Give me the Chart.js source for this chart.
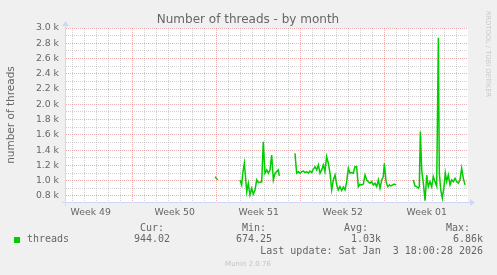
<!DOCTYPE html>
<html>
<head>
<meta charset="utf-8">
<title>Number of threads - by month</title>
<script src="https://cdn.jsdelivr.net/npm/chart.js@4.4.1/dist/chart.umd.min.js"></script>
<style>
	html, body { margin: 0; padding: 0; background: #f0f0f0; }
	canvas { display: block; }
</style>
</head>
<body>
<canvas id="threadsChart" width="497" height="275"></canvas>
<script>
// x values are days counted from the Monday of week 49 (null = no data)
const days = [
	13.86, 14.08, 15.0,
	15.94, 16.08, 16.17, 16.30, 16.50, 16.63, 16.77, 16.91, 17.05, 17.19, 17.33, 17.47, 17.61, 17.75,
	17.88, 18.02, 18.17, 18.30, 18.44, 18.58, 18.72, 18.86, 19.00, 19.13, 19.22, 19.9,
	20.52, 20.66, 20.80, 20.94, 21.08, 21.22, 21.36, 21.50, 21.63, 21.77, 21.91, 22.05, 22.19, 22.33,
	22.47, 22.61, 22.75, 22.88, 23.02, 23.16, 23.30, 23.44, 23.58, 23.72, 23.86, 24.00, 24.13, 24.27,
	24.41, 24.55, 24.69, 24.83, 24.97, 25.11, 25.25, 25.38, 25.52, 25.66, 25.80, 25.94, 26.08, 26.22,
	26.36, 26.50, 26.63, 26.77, 26.91, 27.05, 27.19, 27.33, 27.47, 27.61, 27.75, 27.88, 27.97, 28.11,
	28.25, 28.39, 28.52, 28.66, 28.80, 28.94, 29.6,
	30.38, 30.52, 30.66, 30.80, 30.88, 30.97, 31.08, 31.22, 31.36, 31.50, 31.63, 31.77, 31.91, 32.05,
	32.19, 32.33, 32.47, 32.55, 32.67, 32.80, 32.94, 33.05, 33.16, 33.30, 33.44, 33.58, 33.72, 33.86,
	34.00, 34.13, 34.27, 34.41, 34.55, 34.69
];
const threads = [
	1050, 1010, null,
	1009, 944, 1097, 1228, 856, 965, 812, 900, 825, 878, 1009, 973, 980, 985,
	1510, 1097, 1140, 1097, 1140, 1336, 1009, 1097, 1118, 1140, 1062, null,
	1358, 1097, 1118, 1097, 1118, 1125, 1105, 1118, 1097, 1125, 1105, 1149, 1183, 1140,
	1205, 1097, 1140, 1205, 1118, 1314, 1228, 1097, 878, 1009, 1074, 944, 878, 922,
	870, 915, 878, 987, 1162, 1097, 1105, 1097, 1183, 1183, 921, 950, 944, 955,
	1074, 1009, 987, 965, 987, 944, 965, 921, 1009, 900, 1009, 1052, 1228, 987,
	921, 944, 930, 944, 955, 944, null,
	1009, 930, 922, 900, 921, 1642, 1140, 965, 738, 1074, 921, 987, 921, 1052,
	987, 930, 2873, 1097, 878, 769, 921, 1097, 987, 1074, 944, 1009, 987, 1030,
	987, 965, 1009, 1162, 1030, 944
];

const weekTicks = [3.5, 10.5, 17.5, 24.5, 31.5];
const weekLabels = ["Week 49", "Week 50", "Week 51", "Week 52", "Week 01"];
const yMajor = [800, 1000, 1200, 1400, 1600, 1800, 2000, 2200, 2400, 2600, 2800, 3000];
const yLabels = ["0.8 k", "1.0 k", "1.2 k", "1.4 k", "1.6 k", "1.8 k", "2.0 k", "2.2 k", "2.4 k", "2.6 k", "2.8 k", "3.0 k"];

const legendHeads = ["Cur:", "Min:", "Avg:", "Max:"];
const legendValues = ["944.02", "674.25", "1.03k", "6.86k"];
const lastUpdate = "Last update: Sat Jan  3 18:00:28 2026";

const MAJOR = "rgba(222, 79, 79, 0.45)";
const MINOR = "rgba(143, 143, 143, 0.4)";
const AXIS = "#CFD6F8";
const FONT = "#666666";

const muninDecor = {
	id: "muninDecor",
	beforeDraw(chart) {
		const { ctx, chartArea: a } = chart;
		ctx.save();
		ctx.fillStyle = "#f0f0f0";
		ctx.fillRect(0, 0, chart.width, chart.height);
		ctx.fillStyle = "#ffffff";
		ctx.fillRect(a.left, a.top, a.right - a.left, a.bottom - a.top);
		ctx.restore();
	},
	afterDraw(chart) {
		const { ctx, chartArea: a } = chart;
		ctx.save();

		// axes with arrows
		ctx.strokeStyle = AXIS;
		ctx.fillStyle = AXIS;
		ctx.lineWidth = 1;
		ctx.beginPath();
		ctx.moveTo(a.left - 4, a.bottom + 0.5);
		ctx.lineTo(a.right + 3, a.bottom + 0.5);
		ctx.moveTo(a.left - 0.5, a.bottom + 4);
		ctx.lineTo(a.left - 0.5, a.top - 3);
		ctx.stroke();
		ctx.beginPath();
		ctx.moveTo(a.right + 2, a.bottom - 3);
		ctx.lineTo(a.right + 7, a.bottom + 0.5);
		ctx.lineTo(a.right + 2, a.bottom + 4);
		ctx.closePath();
		ctx.fill();
		ctx.beginPath();
		ctx.moveTo(a.left - 4, a.top - 2);
		ctx.lineTo(a.left - 0.5, a.top - 7);
		ctx.lineTo(a.left + 3, a.top - 2);
		ctx.closePath();
		ctx.fill();

		// title
		ctx.fillStyle = FONT;
		ctx.font = "12px 'DejaVu Sans'";
		ctx.textAlign = "center";
		ctx.textBaseline = "alphabetic";
		ctx.fillText("Number of threads - by month", 248, 23);

		// y axis title
		ctx.save();
		ctx.translate(14, (a.top + a.bottom) / 2);
		ctx.rotate(-Math.PI / 2);
		ctx.font = "10.5px 'DejaVu Sans'";
		ctx.fillText("number of threads", 0, 0);
		ctx.restore();

		// watermark
		ctx.save();
		ctx.translate(486, 54);
		ctx.rotate(Math.PI / 2);
		ctx.fillStyle = "#c8c8c8";
		ctx.font = "6.7px 'DejaVu Sans'";
		ctx.fillText("RRDTOOL / TOBI OETIKER", 0, 0);
		ctx.restore();

		// legend
		ctx.font = "10px 'DejaVu Sans Mono'";
		ctx.textBaseline = "middle";
		ctx.textAlign = "right";
		const headRight = [164, 266, 368, 470];
		const valueRight = [170, 272, 381, 483];
		legendHeads.forEach((h, i) => ctx.fillText(h, headRight[i], 228));
		legendValues.forEach((v, i) => ctx.fillText(v, valueRight[i], 239.5));
		ctx.fillText(lastUpdate, 483, 251.5);
		ctx.textAlign = "left";
		ctx.fillText("threads", 27, 239.5);
		ctx.fillStyle = "#00cc00";
		ctx.fillRect(14, 237, 6, 6);

		ctx.fillStyle = "#c4c4c4";
		ctx.font = "7px 'DejaVu Sans'";
		ctx.textAlign = "center";
		ctx.fillText("Munin 2.0.76", 248, 264);

		ctx.restore();
	},
};

const threadsCanvas = document.getElementById("threadsChart");
const threadsChart = new Chart(threadsCanvas, {
	type: "line",
	data: {
		datasets: [
			{
				label: "threads",
				data: days.map((d, i) => ({ x: d, y: threads[i] })),
				borderColor: "#00cc00",
				borderWidth: 1.5,
				pointRadius: 0,
				tension: 0,
				spanGaps: false,
				fill: false,
			},
		],
	},
	options: {
		responsive: false,
		animation: false,
		layout: {
			padding: { top: 28, right: 29, bottom: 0, left: 0 },
		},
		scales: {
			x: {
				type: "linear",
				min: 1.44,
				max: 34.94,
				afterFit: (scale) => {
					scale.height = 73;
				},
				afterBuildTicks: (scale) => {
					const ticks = [];
					for (let v = 2; v <= 34.5; v += 0.5) ticks.push({ value: v });
					scale.ticks = ticks;
				},
				border: { display: false, dash: [1, 1] },
				grid: {
					drawTicks: false,
					color: (ctx) => {
						const v = ctx.tick ? ctx.tick.value : 0;
						if (v % 1 !== 0) return "rgba(0,0,0,0)";
						return v % 7 === 0 ? MAJOR : MINOR;
					},
				},
				ticks: {
					autoSkip: false,
					maxRotation: 0,
					padding: 5,
					color: FONT,
					font: { family: "DejaVu Sans", size: 9.3 },
					callback: (value) => {
						const i = weekTicks.indexOf(value);
						return i >= 0 ? weekLabels[i] : "";
					},
				},
			},
			y: {
				min: 720,
				max: 3000,
				afterFit: (scale) => {
					scale.width = 66;
				},
				afterBuildTicks: (scale) => {
					const ticks = [];
					for (let v = 800; v <= 3000; v += 100) ticks.push({ value: v });
					scale.ticks = ticks;
				},
				border: { display: false, dash: [1, 1] },
				grid: {
					drawTicks: false,
					color: (ctx) => {
						const v = ctx.tick ? ctx.tick.value : 0;
						return yMajor.includes(v) ? MAJOR : MINOR;
					},
				},
				ticks: {
					autoSkip: false,
					padding: 7,
					color: FONT,
					font: { family: "DejaVu Sans", size: 9.3 },
					callback: (value) => {
						const i = yMajor.indexOf(value);
						return i >= 0 ? yLabels[i] : "";
					},
				},
			},
		},
		plugins: {
			legend: { display: false },
			title: { display: false },
			tooltip: { enabled: false },
		},
	},
	plugins: [muninDecor],
});
</script>
</body>
</html>
